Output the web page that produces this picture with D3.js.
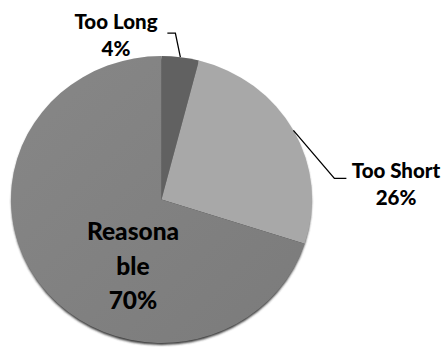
<!DOCTYPE html>
<html>
<head>
<meta charset="utf-8">
<script src="https://cdn.jsdelivr.net/npm/d3@7"></script>
<style>
  html, body { margin: 0; padding: 0; background: #fff; }
  svg { display: block; }
  text { font-family: Lato, "Open Sans", sans-serif; font-weight: 900; fill: #000; }
</style>
</head>
<body>
<svg id="chart" width="446" height="347"></svg>
<script>
// Survey answers: how was the length?
const categories = ["Too Long", "Too Short", "Reasonable"];
const percents = [4, 26, 70];
const sliceColors = ["#616161", "#a8a8a8", "#828282"];

const W = 446, H = 347;
const cx = 161.5, cy = 199.5, rx = 150.5, ry = 143.5;

const svg = d3.select("#chart");
const defs = svg.append("defs");

defs.append("filter").attr("id", "edgeShadow")
  .attr("x", "-10%").attr("y", "-10%").attr("width", "120%").attr("height", "120%")
  .append("feGaussianBlur").attr("stdDeviation", 1.2);

// soft shading on the big slice
const g1 = defs.append("linearGradient").attr("id", "shadeReason")
  .attr("x1", "0").attr("y1", "0").attr("x2", "1").attr("y2", "1");
g1.append("stop").attr("offset", "0%").attr("stop-color", "#878787");
g1.append("stop").attr("offset", "100%").attr("stop-color", "#7b7b7b");

const data = categories.map((c, i) => ({ name: c, value: percents[i], color: sliceColors[i] }));

const pie = d3.pie().value(d => d.value).sort(null).startAngle(0).endAngle(2 * Math.PI);
const arcs = pie(data);
const arc = d3.arc().innerRadius(0).outerRadius(rx);

// dark rim below the disc
svg.append("ellipse")
  .attr("cx", cx).attr("cy", cy + 2).attr("rx", rx - 0.5).attr("ry", ry)
  .attr("fill", "#3a3a3a")
  .attr("filter", "url(#edgeShadow)");

const pieG = svg.append("g")
  .attr("transform", `translate(${cx},${cy}) scale(1,${ry / rx})`);

pieG.selectAll("path")
  .data(arcs)
  .join("path")
  .attr("d", arc)
  .attr("fill", d => d.data.name === "Reasonable" ? "url(#shadeReason)" : d.data.color);

// point on the rim at a slice's middle angle
function rimPoint(a) {
  const m = (a.startAngle + a.endAngle) / 2;
  return [cx + rx * Math.sin(m), cy - ry * Math.cos(m)];
}

const line = d3.line();

// Too Long: leader goes up and bends left to the label
{
  const a = arcs[0];
  const [px, py] = rimPoint(a);
  svg.append("path")
    .attr("d", line([[px, py], [px - 5, py - 24], [px - 13, py - 24]]))
    .attr("fill", "none").attr("stroke", "#000").attr("stroke-width", 1.3);
  const t = svg.append("text").attr("text-anchor", "middle").attr("font-size", 20.5);
  t.append("tspan").attr("x", 116).attr("y", 29).text(a.data.name);
  t.append("tspan").attr("x", 116).attr("y", 56).text(a.data.value + "%");
}

// Too Short: leader runs down-right then flat into the label
{
  const a = arcs[1];
  const [px, py] = rimPoint(a);
  svg.append("path")
    .attr("d", line([[px, py], [px + 41, py + 48], [px + 53, py + 48]]))
    .attr("fill", "none").attr("stroke", "#000").attr("stroke-width", 1.3);
  const t = svg.append("text").attr("text-anchor", "middle").attr("font-size", 20.5);
  t.append("tspan").attr("x", 396).attr("y", 178).text(a.data.name);
  t.append("tspan").attr("x", 396).attr("y", 205).text(a.data.value + "%");
}

// Reasonable: label inside the slice, wrapped over two lines
{
  const a = arcs[2];
  const t = svg.append("text").attr("text-anchor", "middle").attr("font-size", 24.5);
  ["Reasona", "ble", a.data.value + "%"].forEach((s, i) => {
    t.append("tspan").attr("x", 133).attr("y", 240 + i * 34.5).text(s);
  });
}
</script>
</body>
</html>
